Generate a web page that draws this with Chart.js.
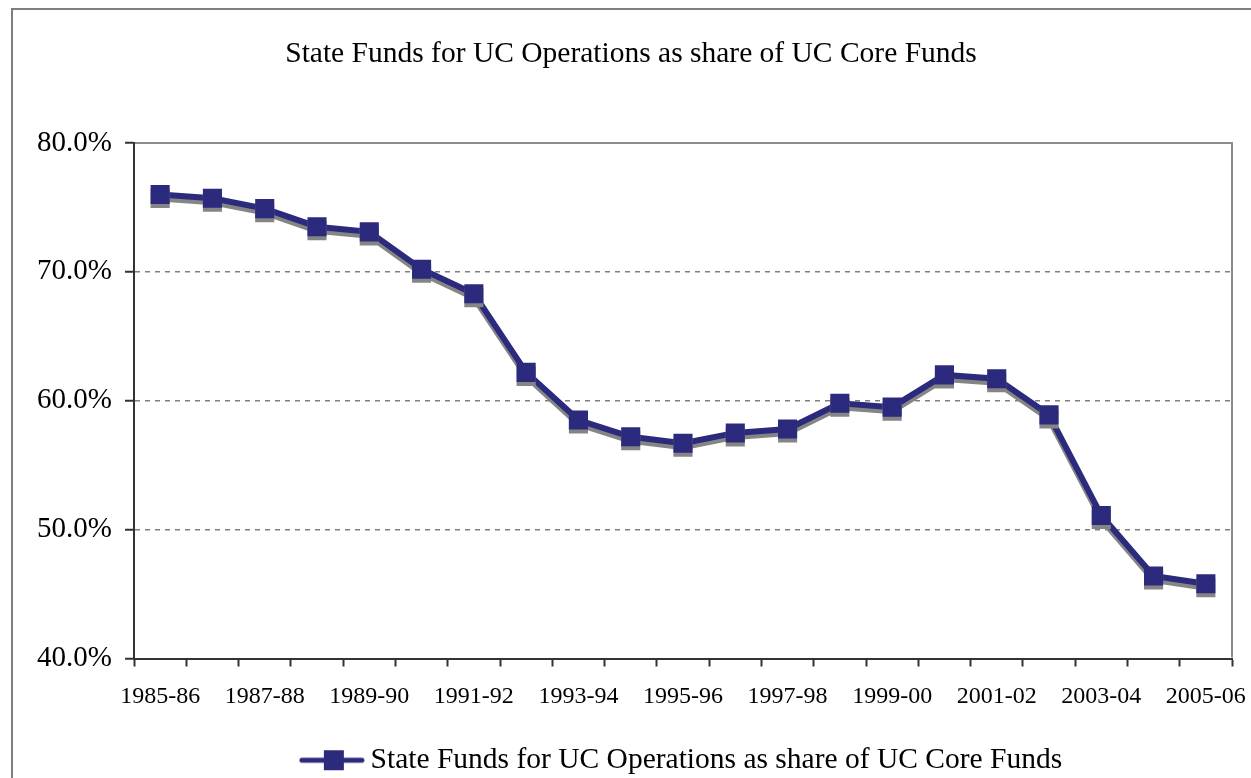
<!DOCTYPE html>
<html>
<head>
<meta charset="utf-8">
<script src="https://cdn.jsdelivr.net/npm/chart.js@4"></script>
<style>
  html, body { margin: 0; padding: 0; background: #fff; }
  #wrap { width: 1251px; height: 778px; }
</style>
</head>
<body>
<div id="wrap"><canvas id="myChart" width="1251" height="778"></canvas></div>
<script>
// chart data
const categories = ['1985-86', '1986-87', '1987-88', '1988-89', '1989-90', '1990-91', '1991-92',
  '1992-93', '1993-94', '1994-95', '1995-96', '1996-97', '1997-98', '1998-99', '1999-00',
  '2000-01', '2001-02', '2002-03', '2003-04', '2004-05', '2005-06'];
const shareValues = [76.0, 75.7, 74.9, 73.5, 73.1, 70.2, 68.3, 62.2, 58.5, 57.2, 56.7,
  57.5, 57.8, 59.8, 59.5, 62.0, 61.7, 58.9, 51.1, 46.4, 45.8];
const yTicks = [40, 50, 60, 70, 80];
const seriesName = 'State Funds for UC Operations as share of UC Core Funds';
const chartTitle = 'State Funds for UC Operations as share of UC Core Funds';

const navy = '#2b2a7c';
const serif = '"Liberation Serif", "Times New Roman", serif';

// legend icon: line with a square marker (left part left blank so the legend sits right of centre)
const icon = document.createElement('canvas');
icon.width = 174;
icon.height = 22;
(function() {
  const c = icon.getContext('2d');
  c.strokeStyle = navy;
  c.lineWidth = 5;
  c.lineCap = 'round';
  c.beginPath();
  c.moveTo(111, 11);
  c.lineTo(171, 11);
  c.stroke();
  c.fillStyle = navy;
  c.fillRect(133, 1, 20, 20);
})();

// frame around the whole chart + gray plot border top/right
const framePlugin = {
  id: 'frame',
  beforeDraw(chart) {
    const ctx = chart.ctx;
    ctx.save();
    ctx.fillStyle = '#fff';
    ctx.fillRect(0, 0, chart.width, chart.height);
    ctx.strokeStyle = '#7f7f7f';
    ctx.lineWidth = 2;
    ctx.strokeRect(12, 9, 1400, 900);
    ctx.restore();
  },
  afterDraw(chart) {
    const a = chart.chartArea;
    const ctx = chart.ctx;
    ctx.save();
    ctx.strokeStyle = '#8c8c8c';
    ctx.lineWidth = 2;
    ctx.beginPath();
    ctx.moveTo(a.left + 1, a.top);
    ctx.lineTo(a.right, a.top);
    ctx.lineTo(a.right, a.bottom - 1);
    ctx.stroke();
    ctx.restore();
  }
};

// drop shadow under the series
const shadowPlugin = {
  id: 'shadow',
  beforeDatasetsDraw(chart) {
    const ctx = chart.ctx;
    ctx.save();
    ctx.shadowColor = '#858585';
    ctx.shadowOffsetX = 0;
    ctx.shadowOffsetY = 4;
    ctx.shadowBlur = 0;
  },
  afterDatasetsDraw(chart) {
    chart.ctx.restore();
  }
};

const ctx = document.getElementById('myChart').getContext('2d');
const lineChart = new Chart(ctx, {
  type: 'line',
  data: {
    labels: categories,
    datasets: [{
      label: seriesName,
      data: shareValues,
      borderColor: navy,
      backgroundColor: navy,
      borderWidth: 6,
      pointStyle: 'rect',
      pointRadius: 13.5,
      pointBorderWidth: 0,
      pointBackgroundColor: navy,
      tension: 0
    }]
  },
  options: {
    responsive: false,
    animation: false,
    layout: {
      padding: { top: 0, left: 30, right: 19, bottom: -7 }
    },
    plugins: {
      title: {
        display: true,
        text: chartTitle,
        color: '#000',
        font: { family: serif, size: 29.5, weight: 'normal' },
        padding: { top: 37, bottom: 70.5 }
      },
      legend: {
        display: true,
        position: 'bottom',
        labels: {
          color: '#000',
          font: { family: serif, size: 29.5 },
          usePointStyle: true,
          pointStyleWidth: 156,
          padding: 0,
          generateLabels() {
            return [{ text: seriesName, pointStyle: icon, fontColor: '#000', lineWidth: 0 }];
          }
        }
      },
      tooltip: { enabled: false }
    },
    scales: {
      x: {
        offset: true,
        grid: {
          offset: true,
          drawOnChartArea: false,
          tickLength: 8,
          tickColor: '#333',
          tickWidth: 2
        },
        border: { color: '#333', width: 2 },
        ticks: {
          autoSkip: false,
          maxRotation: 0,
          color: '#000',
          padding: 16,
          font: { family: serif, size: 24 },
          callback: function(value, index) {
            return index % 2 === 0 ? this.getLabelForValue(value) : '';
          }
        },
        afterFit(scale) {
          scale.height = 87;
          // let the last label run into the right margin
          scale.paddingLeft = 0;
          scale.paddingRight = 0;
        }
      },
      y: {
        min: 40,
        max: 80,
        afterBuildTicks(scale) {
          scale.ticks = yTicks.map(v => ({ value: v }));
        },
        grid: {
          color: '#7f7f7f',
          lineWidth: 1.5,
          tickColor: '#333',
          tickWidth: 2,
          tickLength: 9,
          tickBorderDash: []
        },
        border: { color: '#333', width: 2, dash: [5, 5] },
        ticks: {
          color: '#000',
          padding: 13,
          font: { family: serif, size: 29 },
          callback: v => v.toFixed(1) + '%'
        },
        afterFit(scale) { scale.width = 104; }
      }
    }
  },
  plugins: [framePlugin, shadowPlugin]
});
</script>
</body>
</html>
